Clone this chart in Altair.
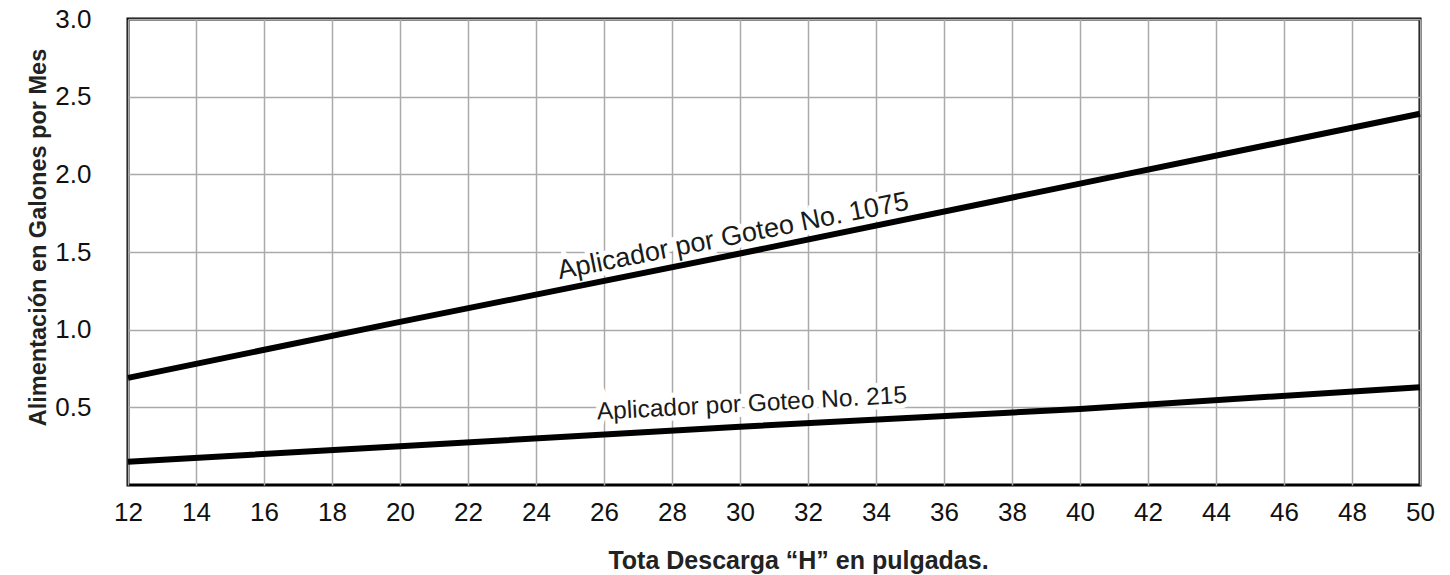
import altair as alt
import pandas as pd

# Data
h_values = [12, 20, 30, 40, 50]
feed_1075 = [0.69, 1.05, 1.49, 1.94, 2.39]
feed_215 = [0.15, 0.25, 0.375, 0.49, 0.63]

x_ticks = list(range(12, 51, 2))
y_ticks = [0.5, 1.0, 1.5, 2.0, 2.5, 3.0]

label_1075 = "Aplicador por Goteo No. 1075"
label_215 = "Aplicador por Goteo No. 215"
label_1075_pos = (29.8, 1.60)
label_215_pos = (30.35, 0.52)

FONT = "Liberation Sans"

lines_df = pd.DataFrame(
    {
        "H": h_values * 2,
        "feed": feed_1075 + feed_215,
        "series": ["1075"] * len(h_values) + ["215"] * len(h_values),
    }
)

x_scale = alt.Scale(domain=[12, 50], nice=False, zero=False)
y_scale = alt.Scale(domain=[0, 3], nice=False)

x_axis = alt.Axis(
    values=x_ticks,
    grid=True,
    gridColor="#aaaaaa",
    gridWidth=1.5,
    ticks=False,
    domain=False,
    labelFontSize=26,
    labelFont=FONT,
    labelColor="#111111",
    labelPadding=14,
    labelFlush=False,
    title="Tota Descarga “H” en pulgadas.",
    titleFont=FONT,
    titleFontSize=25,
    titleFontWeight="bold",
    titleColor="#222222",
    titleX=670,
    titleY=83,
    titleAlign="center",
    titleBaseline="alphabetic",
)

y_axis = alt.Axis(
    values=y_ticks,
    format=".1f",
    grid=True,
    gridColor="#aaaaaa",
    gridWidth=1.5,
    ticks=False,
    domain=False,
    labelFontSize=26,
    labelFont=FONT,
    labelColor="#111111",
    labelPadding=37,
    labelFlush=False,
    title="Alimentación en Galones por Mes",
    titleFont=FONT,
    titleFontSize=23.5,
    titleFontWeight="bold",
    titleColor="#222222",
    titleAngle=270,
    titleX=-90,
    titleY=218,
    titleAlign="center",
    titleBaseline="middle",
)

lines = (
    alt.Chart(lines_df)
    .mark_line(color="black", strokeWidth=6)
    .encode(
        x=alt.X("H:Q", scale=x_scale, axis=x_axis),
        y=alt.Y("feed:Q", scale=y_scale, axis=y_axis),
        detail="series:N",
    )
)

lab_df = pd.DataFrame(
    {
        "x": [label_1075_pos[0], label_215_pos[0]],
        "y": [label_1075_pos[1], label_215_pos[1]],
        "text": [label_1075, label_215],
    }
)


def label_layer(i, angle, size):
    base = alt.Chart(lab_df.iloc[[i]])
    enc = dict(
        x=alt.X("x:Q", scale=x_scale),
        y=alt.Y("y:Q", scale=y_scale),
        text="text:N",
    )
    halo = base.mark_text(
        font=FONT, fontSize=size, angle=angle, align="center", baseline="middle",
        color="white", stroke="white", strokeWidth=10,
    ).encode(**enc)
    txt = base.mark_text(
        font=FONT, fontSize=size, angle=angle, align="center", baseline="middle",
        color="#1a1a1a",
    ).encode(**enc)
    return halo, txt


h1, t1 = label_layer(0, 348.7, 27)
h2, t2 = label_layer(1, 356.9, 24.5)

chart = (
    alt.layer(h1, h2, lines, t1, t2)
    .properties(
        width=1292,
        height=466,
        padding={"left": 120, "top": 11, "right": 20, "bottom": 90},
        autosize=alt.AutoSizeParams(type="none"),
        background="white",
    )
    .configure_view(stroke="black", strokeWidth=3)
)

chart.save("out.html", embed_options={"renderer": "svg", "actions": False})
